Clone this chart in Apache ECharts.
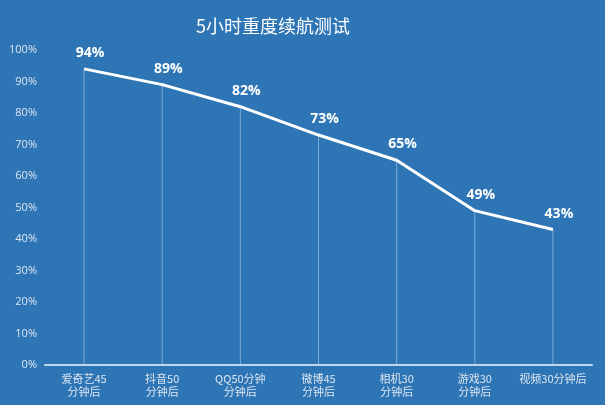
<!DOCTYPE html>
<html><head><meta charset="utf-8">
<script src="https://cdn.jsdelivr.net/npm/echarts@6/dist/echarts.min.js"></script>
<style>html,body{margin:0;padding:0;background:#2e75b6}#c{width:605px;height:405px}</style>
</head><body><div id="c"></div>
<script>
const categories = ['爱奇艺45\n分钟后','抖音50\n分钟后','QQ50分钟\n分钟后','微博45\n分钟后','相机30\n分钟后','游戏30\n分钟后','视频30分钟后'];
const values = [94, 89, 82, 73, 65, 49, 43];
const yTicks = [0,10,20,30,40,50,60,70,80,90,100];
const titleText = '5小时重度续航测试';

const chart = echarts.init(document.getElementById('c'));
chart.setOption({
  backgroundColor: '#2e75b6',
  animation: false,
  title: { text: titleText, left: 268, top: 12, textAlign: 'center',
    textStyle: { color: '#ffffff', fontSize: 18, fontWeight: 'normal', fontFamily: 'Noto Sans CJK SC' } },
  grid: { left: 45, right: 13, top: 50, bottom: 40 },
  xAxis: { type: 'category', data: categories, boundaryGap: true,
    axisLine: { lineStyle: { color: '#bdd7ee', width: 2 } },
    axisTick: { show: false },
    axisLabel: { color: '#dce6f2', fontSize: 11, lineHeight: 13, margin: 7, interval: 0, fontFamily: 'Noto Sans CJK SC' } },
  yAxis: { type: 'value', min: yTicks[0], max: yTicks[yTicks.length-1], interval: 10,
    splitLine: { show: false }, axisLine: { show: false }, axisTick: { show: false },
    axisLabel: { color: '#dce6f2', fontSize: 11, margin: 8, formatter: v => v + '%', fontFamily: 'Open Sans' } },
  series: [
    { type: 'bar', data: values, barWidth: 1, silent: true,
      itemStyle: { color: 'rgba(189,215,238,0.55)' },
      label: { show: true, position: 'top', offset: [6, -4], color: '#ffffff', fontSize: 14, fontWeight: 'bold',
        fontFamily: 'Open Sans', formatter: p => p.value + '%' } },
    { type: 'line', data: values, symbol: 'none', smooth: false, z: 3,
      lineStyle: { color: '#ffffff', width: 3 } }
  ]
});
</script></body></html>
